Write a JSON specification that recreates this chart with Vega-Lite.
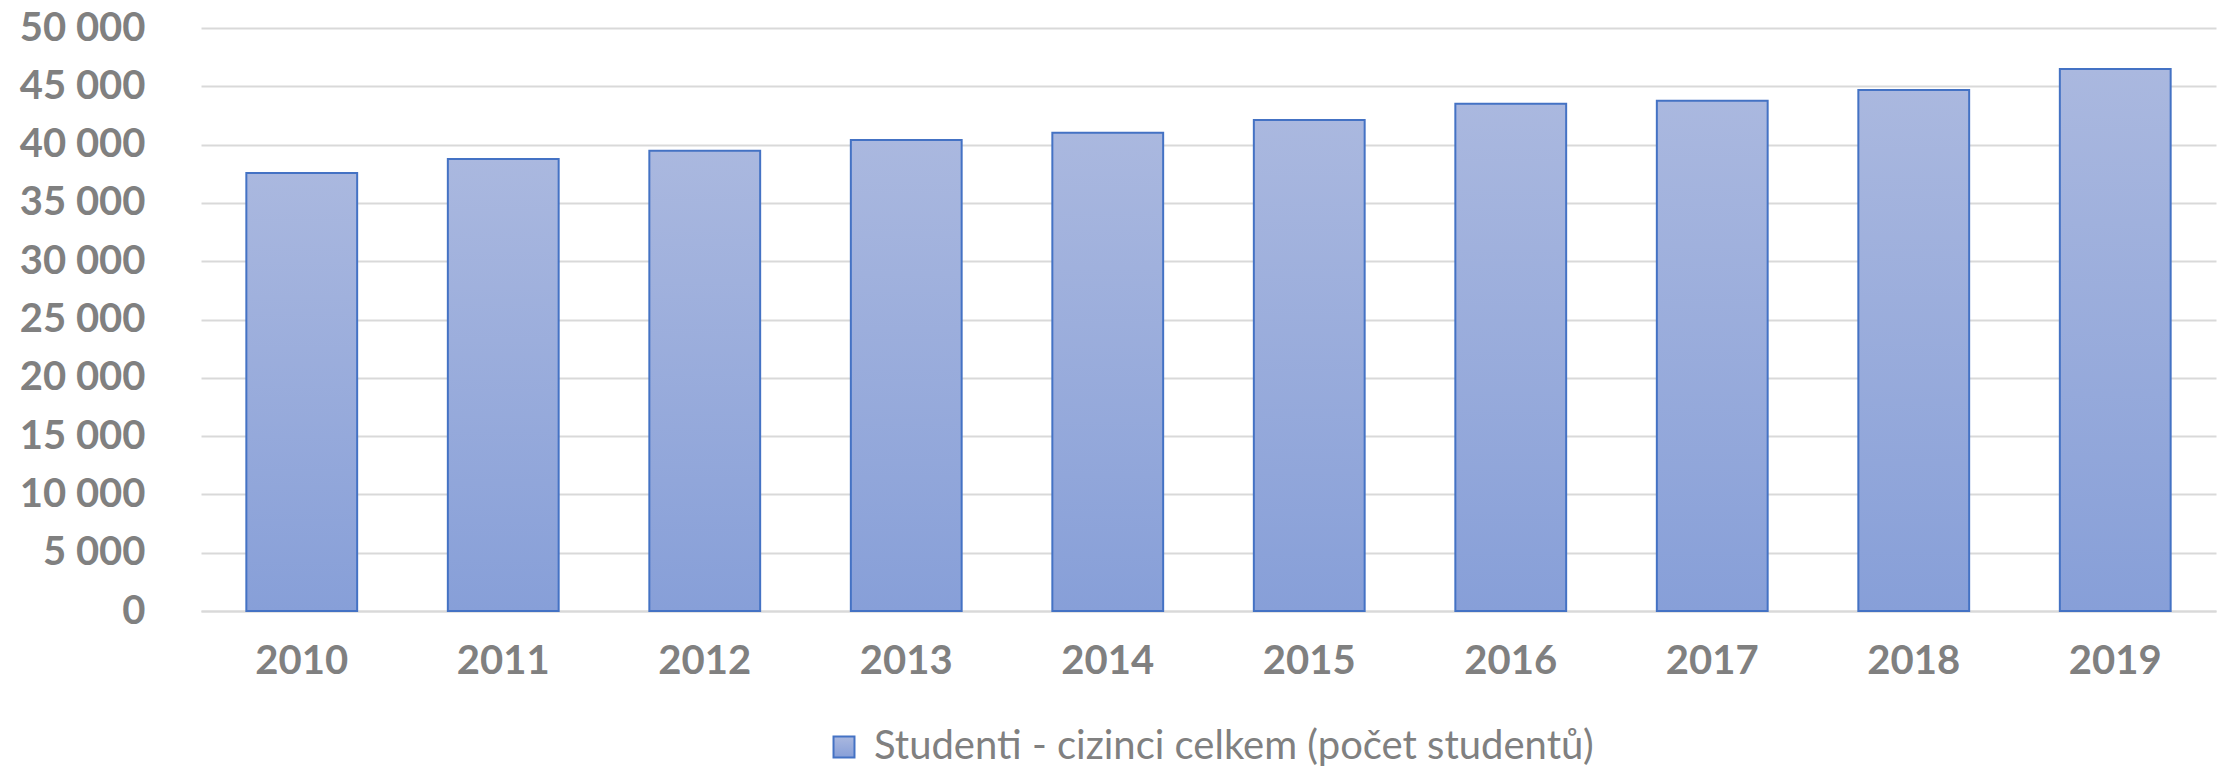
{
  "$schema": "https://vega.github.io/schema/vega-lite/v6.json",
  "autosize": "none",
  "width": 2015,
  "height": 583,
  "padding": {"left": 201, "top": 28, "right": 2, "bottom": 158},
  "background": "white",
  "data": {
    "values": [
      {"rok": "2010", "studenti": 37560},
      {"rok": "2011", "studenti": 38770},
      {"rok": "2012", "studenti": 39480},
      {"rok": "2013", "studenti": 40390},
      {"rok": "2014", "studenti": 41020},
      {"rok": "2015", "studenti": 42110},
      {"rok": "2016", "studenti": 43500},
      {"rok": "2017", "studenti": 43770},
      {"rok": "2018", "studenti": 44680},
      {"rok": "2019", "studenti": 46480}
    ]
  },
  "mark": {
    "type": "bar",
    "fill": {
      "gradient": "linear",
      "x1": 0, "y1": 0, "x2": 0, "y2": 1,
      "stops": [
        {"offset": 0, "color": "#aab8df"},
        {"offset": 1, "color": "#879fd8"}
      ]
    },
    "strokeWidth": 2
  },
  "encoding": {
    "x": {
      "field": "rok",
      "type": "ordinal",
      "scale": {"paddingInner": 0.45, "paddingOuter": 0.225},
      "axis": {
        "title": null,
        "labelAngle": 0,
        "labelFont": "Lato",
        "labelFontWeight": "bold",
        "labelFontSize": 40,
        "labelColor": "#808080",
        "labelPadding": 30,
        "ticks": false,
        "domain": true,
        "domainColor": "#d9d9d9",
        "domainWidth": 2
      }
    },
    "y": {
      "field": "studenti",
      "type": "quantitative",
      "scale": {"domain": [0, 50000]},
      "axis": {
        "title": null,
        "values": [0, 5000, 10000, 15000, 20000, 25000, 30000, 35000, 40000, 45000, 50000],
        "labelExpr": "replace(format(datum.value, ','), ',', ' ')",
        "labelFont": "Lato",
        "labelFontWeight": "bold",
        "labelFontSize": 40,
        "labelColor": "#808080",
        "labelPadding": 56,
        "ticks": false,
        "domain": false,
        "grid": true,
        "gridColor": "#d9d9d9",
        "gridWidth": 2
      }
    },
    "stroke": {
      "datum": "Studenti - cizinci celkem (počet studentů)",
      "type": "nominal",
      "scale": {"range": ["#4472c4"]},
      "legend": {
        "title": null,
        "orient": "bottom",
        "offset": 46,
        "labelFont": "Lato",
        "labelFontSize": 40,
        "labelColor": "#808080",
        "labelLimit": 2000,
        "symbolType": "square",
        "symbolSize": 440,
        "symbolStrokeWidth": 2,
        "labelOffset": 10,
        "encode": {"symbols": {"update": {"fill": {"value": "#9eafdc"}, "fillOpacity": {"value": 1}}}}
      }
    }
  },
  "config": {
    "view": {"stroke": null},
    "legend": {"layout": {"bottom": {"anchor": "middle"}}}
  }
}
